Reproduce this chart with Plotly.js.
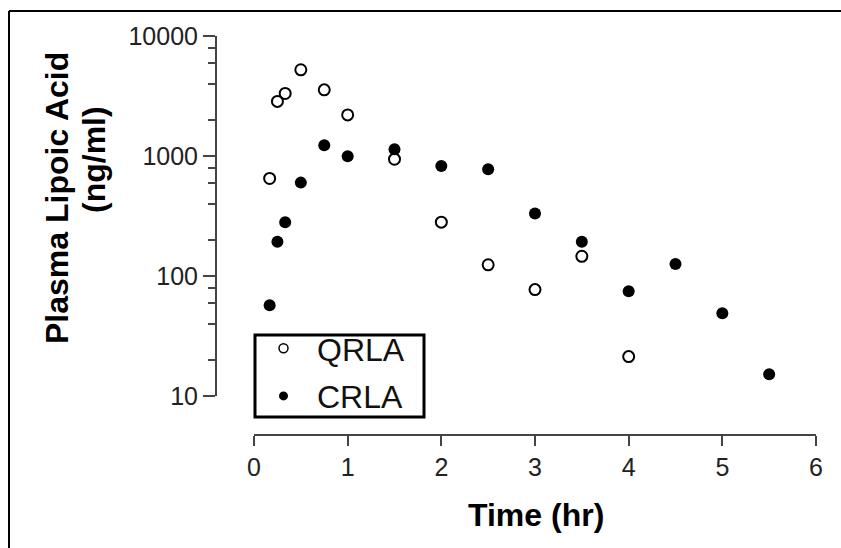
<!DOCTYPE html>
<html>
<head>
<meta charset="utf-8">
<script src="https://cdn.plot.ly/plotly-3.0.1.min.js"></script>
<style>html,body{margin:0;padding:0;background:#fff;}#chart{width:841px;height:548px;}</style>
</head>
<body>
<div id="chart"></div>
<script>
// Time points (hr)
const qrlaTime = [0.167, 0.25, 0.333, 0.5, 0.75, 1, 1.5, 2, 2.5, 3, 3.5, 4];
const qrlaConc = [650, 2850, 3320, 5230, 3560, 2200, 940, 281, 124, 77, 146, 21.3];
const crlaTime = [0.167, 0.25, 0.333, 0.5, 0.75, 1, 1.5, 2, 2.5, 3, 3.5, 4, 4.5, 5, 5.5];
const crlaConc = [57, 193, 281, 600, 1230, 995, 1140, 826, 774, 332, 193, 74.5, 126, 49, 15.2];
const xTicks = [0, 1, 2, 3, 4, 5, 6];
const yTicks = [10, 100, 1000, 10000];
const yMinorTicks = [20, 40, 60, 80, 200, 400, 600, 800, 2000, 4000, 6000, 8000];

const FONT = 'Liberation Sans, Arial, Helvetica, sans-serif';
const L = 216, R = 25, T = 36, B = 113, W = 841 - L - R, H = 548 - T - B;
const px = v => (v - L) / W;
const py = v => (548 - B - v) / H;

const traces = [
  {x: qrlaTime, y: qrlaConc, type: 'scatter', mode: 'markers', name: 'QRLA', showlegend: false,
   marker: {symbol: 'circle-open', size: 11, color: '#000', line: {width: 2, color: '#000'}}},
  {x: crlaTime, y: crlaConc, type: 'scatter', mode: 'markers', name: 'CRLA', showlegend: false,
   marker: {symbol: 'circle', size: 12, color: '#000'}},
  {x: [null], y: [null], type: 'scatter', mode: 'markers', name: 'QRLA', legendgroup: 'a',
   marker: {symbol: 'circle-open', size: 9, color: '#000', line: {width: 1.5, color: '#000'}}},
  {x: [null], y: [null], type: 'scatter', mode: 'markers', name: 'CRLA', legendgroup: 'b',
   marker: {symbol: 'circle', size: 9, color: '#000'}}
];

const layout = {
  width: 841, height: 548,
  margin: {l: L, r: R, t: T, b: B, pad: 0},
  paper_bgcolor: '#fff', plot_bgcolor: 'rgba(0,0,0,0)',
  font: {family: FONT, color: '#222'},
  showlegend: true,
  legend: {x: px(250), y: py(321), xanchor: 'left', yanchor: 'top',
           borderwidth: 0, bgcolor: 'rgba(0,0,0,0)',
           font: {family: FONT, size: 32, color: '#111'},
           traceorder: 'grouped', tracegroupgap: 3, itemwidth: 57},
  xaxis: {domain: [px(254), 1], range: [0, 6], anchor: 'free', position: 0,
          tickvals: xTicks, ticktext: xTicks.map(String),
          showline: true, linecolor: '#444', linewidth: 2, ticks: 'outside', ticklen: 10, tickwidth: 2, tickcolor: '#444',
          showgrid: false, zeroline: false, tickfont: {family: FONT, size: 25, color: '#222'}},
  yaxis: {domain: [py(396), 1], type: 'log', range: [1, 4], anchor: 'free', position: 0,
          tickvals: yTicks, ticktext: yTicks.map(String),
          showline: true, linecolor: '#444', linewidth: 2, ticks: 'outside', ticklen: 12, tickwidth: 2, tickcolor: '#444',
          minor: {tickmode: 'array', tickvals: yMinorTicks, ticks: 'outside', ticklen: 7, tickwidth: 2, tickcolor: '#444', showgrid: false},
          showgrid: false, zeroline: false, tickfont: {family: FONT, size: 25, color: '#222'}},
  annotations: [
    {text: 'Time (hr)', xref: 'paper', yref: 'paper', x: px(536), y: py(515), xanchor: 'center', yanchor: 'middle',
     showarrow: false, font: {family: FONT, size: 32, color: '#000', weight: 'bold'}},
    {text: 'Plasma Lipoic Acid', xref: 'paper', yref: 'paper', x: px(57), y: py(198), xanchor: 'center', yanchor: 'middle',
     textangle: -90, showarrow: false, font: {family: FONT, size: 32, color: '#000', weight: 'bold'}},
    {text: '(ng/ml)', xref: 'paper', yref: 'paper', x: px(94), y: py(160), xanchor: 'center', yanchor: 'middle',
     textangle: -90, showarrow: false, font: {family: FONT, size: 32, color: '#000', weight: 'bold'}}
  ],
  shapes: [
    {type: 'line', xref: 'paper', yref: 'paper', x0: px(9), x1: px(841), y0: py(11), y1: py(11), line: {color: '#000', width: 2}},
    {type: 'line', xref: 'paper', yref: 'paper', x0: px(9), x1: px(9), y0: py(11), y1: py(548), line: {color: '#000', width: 2}},
    {type: 'rect', xref: 'paper', yref: 'paper', x0: px(255), x1: px(424), y0: py(335), y1: py(417), line: {color: '#000', width: 3}, fillcolor: 'rgba(0,0,0,0)', layer: 'above'}
  ]
};

Plotly.newPlot('chart', traces, layout, {displayModeBar: false, staticPlot: true});
</script>
</body>
</html>
